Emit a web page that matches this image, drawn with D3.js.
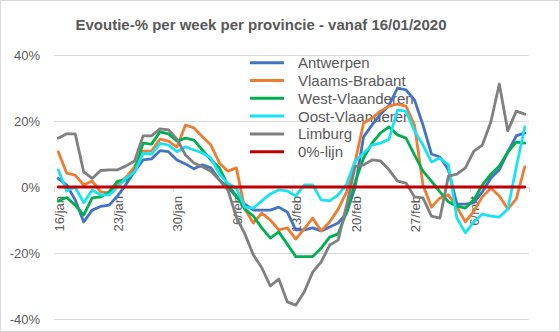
<!DOCTYPE html>
<html><head><meta charset="utf-8">
<script src="https://cdn.jsdelivr.net/npm/d3@7"></script>
<style>
html,body{margin:0;padding:0;background:#fff;}
svg{display:block;font-family:"Liberation Sans",Arial,sans-serif;}
</style></head>
<body>
<svg id="chart" width="560" height="332"></svg>
<script>
const title = "Evoutie-% per week per provincie - vanaf 16/01/2020";
const categories = [
 "16/jan","17/jan","18/jan","19/jan","20/jan","21/jan","22/jan","23/jan","24/jan","25/jan","26/jan","27/jan","28/jan","29/jan","30/jan","31/jan",
 "1/feb","2/feb","3/feb","4/feb","5/feb","6/feb","7/feb","8/feb","9/feb","10/feb","11/feb","12/feb","13/feb","14/feb","15/feb","16/feb","17/feb","18/feb","19/feb","20/feb","21/feb","22/feb","23/feb","24/feb","25/feb","26/feb","27/feb","28/feb",
 "1/mrt","2/mrt","3/mrt","4/mrt","5/mrt","6/mrt","7/mrt","8/mrt","9/mrt","10/mrt","11/mrt","12/mrt"];
const tickLabels = ["16/jan","23/jan","30/jan","6/feb","13/feb","20/feb","27/feb","6/mrt"];
const yTicks = [0.4, 0.2, 0, -0.2, -0.4];

const antwerpen = [2.6,0.6,-3.9,-10.6,-7.0,-5.9,-5.5,-2.7,0.8,4.8,8.2,8.5,11.0,10.7,8.2,7.0,5.5,6.7,5.8,2.1,
 0,-3.0,-5.2,-7.0,-7.0,-7.0,-6.1,-7.6,-13.0,-13.0,-12.4,-13.3,-12.1,-10.9,-7.9,0,15.2,18.8,22.1,24.8,
 30.0,29.4,26.4,18.8,10.0,9.1,5.2,-5.2,-5.2,-4.8,-1.5,2.7,5.2,10.6,15.5,16.4];
const vlaamsBrabant = [10.7,4.2,3.6,0.6,1.8,-1.5,-1.8,0.9,3.0,6.1,10.9,10.9,14.5,13.9,12.1,18.8,17.9,15.2,12.7,7.3,
 4.8,5.8,-6.7,-10.9,-7.9,-10.0,-13.0,-12.4,-15.8,-12.7,-9.4,-13.3,-10.6,-6.7,-1.5,7.6,19.4,20.9,23.0,24.5,
 25.1,24.5,18.8,0.6,-6.1,-3.3,-2.4,-6.1,-10.6,-7.3,-3.0,-0.3,-2.7,-6.7,-3.6,6.1];
const westVlaanderen = [-4.2,-3.2,-5.5,-8.5,-3.3,-3.0,-1.5,1.8,2.1,4.8,13.3,13.0,16.7,16.1,13.9,14.8,14.2,11.2,8.2,5.8,
 0.6,-2.7,-6.7,-8.8,-12.4,-15.5,-13.6,-17.3,-21.1,-21.1,-21.1,-18.5,-15.2,-14.2,-7.6,1.5,8.8,13.3,16.4,18.2,
 15.8,14.8,9.7,4.8,1.8,-1.5,-4.5,-5.8,-6.4,-3.9,0.6,3.9,6.4,10.6,13.6,13.3];
const oostVlaanderen = [5.2,-1.2,0,-4.8,-0.9,-2.4,-2.4,0,2.7,4.5,10.2,10.0,13.2,12.7,10.7,12.2,11.2,10.3,8.8,3.9,
 1.1,-0.3,-6.1,-6.4,-4.2,-2.1,-0.9,-1.2,-2.7,0.6,0.6,-3.9,-4.2,-2.4,0.9,7.9,10.3,12.7,13.3,14.5,
 23.3,23.0,17.0,12.7,7.6,8.8,6.7,-9.4,-13.9,-10.6,-8.2,-8.8,-9.1,-6.7,6.0,18.2];
const limburg = [14.8,16.1,16.1,4.6,2.6,5.0,5.2,5.2,6.4,7.9,15.5,15.5,17.6,17.3,14.5,9.7,7.3,6.1,4.8,2.1,
 -0.9,-9.1,-14.2,-20.6,-24.5,-30.0,-27.9,-34.8,-35.8,-31.8,-25.8,-22.7,-17.6,-16.1,-5.5,6.2,6.7,8.2,7.9,5.2,
 1.8,1.2,-3.0,-3.3,-8.8,-9.4,3.3,3.9,5.8,10.9,12.7,19.7,31.2,17.0,23.0,22.1];
const nulLijn = categories.map(() => 0);

const seriesNames = ["Antwerpen","Vlaams-Brabant","West-Vlaanderen","Oost-Vlaanderen","Limburg","0%-lijn"];
const seriesValues = [antwerpen, vlaamsBrabant, westVlaanderen, oostVlaanderen, limburg, nulLijn];
const seriesColors = ["#4472C4","#ED7D31","#00B050","#17E3F5","#808080","#C00000"];

const svg = d3.select("#chart");
const textColor = "#595959";
const gridColor = "#D9D9D9";

// chart border
svg.append("rect").attr("x",0.5).attr("y",0.5).attr("width",559).attr("height",331)
  .attr("fill","#fff").attr("stroke",gridColor);

const x = d3.scaleBand().domain(categories).range([54, 529]).paddingInner(0).paddingOuter(0);
const cx = c => x(c) + x.bandwidth()/2;
const y = d3.scaleLinear().domain([-0.4, 0.4]).range([319, 55]);

// title
svg.append("text").attr("x",261).attr("y",29.5).attr("text-anchor","middle")
  .attr("font-size",15).attr("font-weight","bold").attr("fill",textColor).text(title);

// gridlines
svg.append("g").selectAll("line").data(yTicks).join("line")
  .attr("x1",54).attr("x2",529).attr("y1",d=>Math.round(y(d))+0.5).attr("y2",d=>Math.round(y(d))+0.5)
  .attr("stroke",gridColor).attr("stroke-width",1);

// y labels
const pct = d => Math.round(d*100) + "%";
svg.append("g").selectAll("text").data(yTicks).join("text")
  .attr("x",40).attr("y",d=>y(d)).attr("text-anchor","end").attr("dominant-baseline","central")
  .attr("font-size",13).attr("fill",textColor).text(d=>pct(d).replace("-","-"));

// x ticks
const tickIdx = categories.map((c,i)=>i).filter(i=>i%7===0);
svg.append("g").selectAll("line").data(tickIdx).join("line")
  .attr("x1",i=>Math.round(x(categories[i]))+0.5).attr("x2",i=>Math.round(x(categories[i]))+0.5)
  .attr("y1",y(0)).attr("y2",y(0)+5).attr("stroke",gridColor);
svg.append("line").attr("x1",529.5).attr("x2",529.5).attr("y1",y(0)).attr("y2",y(0)+5).attr("stroke",gridColor);

// x labels
svg.append("g").selectAll("text").data(tickLabels).join("text")
  .attr("transform",d=>`translate(${cx(d)+1},${y(0)+9}) rotate(-90)`)
  .attr("text-anchor","end").attr("dominant-baseline","central")
  .attr("font-size",13).attr("fill",textColor).text(d=>d);

// legend (drawn below lines)
const leg = svg.append("g");
seriesNames.forEach((n,i)=>{
  const ly = 62.7 + i*17.8;
  leg.append("line").attr("x1",250).attr("x2",284).attr("y1",ly).attr("y2",ly)
    .attr("stroke",seriesColors[i]).attr("stroke-width",3);
  leg.append("text").attr("x",298).attr("y",ly).attr("dominant-baseline","central")
    .attr("font-size",15).attr("fill",textColor).text(n);
});

// lines
const line = d3.line().x((d,i)=>cx(categories[i])).y(d=>y(d/100));
seriesValues.forEach((vals,i)=>{
  svg.append("path").datum(vals).attr("d",line).attr("fill","none")
    .attr("stroke",seriesColors[i]).attr("stroke-width",2.8)
    .attr("stroke-linejoin","round").attr("stroke-linecap","round");
});
</script>
</body></html>
